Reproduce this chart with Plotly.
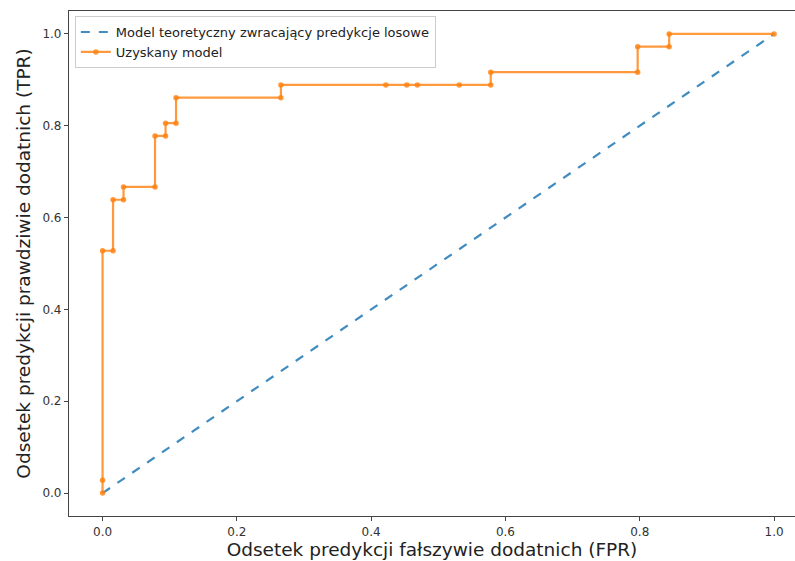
import plotly.graph_objects as go

# ROC curve data
fpr = [0.0, 0.0, 0.0, 0.0156, 0.0156, 0.0312, 0.0312, 0.0781, 0.0781, 0.0938, 0.0938,
       0.1094, 0.1094, 0.2656, 0.2656, 0.4219, 0.4531, 0.4688, 0.5312, 0.5781, 0.5781,
       0.7969, 0.7969, 0.8438, 0.8438, 1.0]
tpr = [0.0, 0.0278, 0.5278, 0.5278, 0.6389, 0.6389, 0.6667, 0.6667, 0.7778, 0.7778, 0.8056,
       0.8056, 0.8611, 0.8611, 0.8889, 0.8889, 0.8889, 0.8889, 0.8889, 0.8889, 0.9167,
       0.9167, 0.9722, 0.9722, 1.0, 1.0]
random_x = [0.0, 1.0]
random_y = [0.0, 1.0]
ticks = [0.0, 0.2, 0.4, 0.6, 0.8, 1.0]

fig = go.Figure()
fig.add_trace(go.Scatter(
    x=random_x, y=random_y, mode="lines",
    name="Model teoretyczny zwracający predykcje losowe",
    line=dict(color="rgba(31,119,180,0.85)", width=2.2, dash="dash"),
))
fig.add_trace(go.Scatter(
    x=fpr, y=tpr, mode="lines+markers",
    name="Uzyskany model",
    line=dict(color="rgba(255,127,14,0.8)", width=2.2),
    marker=dict(color="rgba(255,127,14,0.8)", size=5.5),
))

axis_common = dict(
    showgrid=False, zeroline=False, showline=True, linecolor="#444", linewidth=1.2,
    ticks="outside", ticklen=4, tickcolor="#444", tickvals=ticks, tickformat=".1f",
    tickfont=dict(family="DejaVu Sans", size=12, color="#333"),
)

fig.update_layout(
    width=795, height=561,
    margin=dict(l=69, r=0, t=11, b=45),
    paper_bgcolor="white", plot_bgcolor="white",
    font=dict(family="DejaVu Sans", color="#222"),
    xaxis=dict(range=[-0.05, 1.0312], mirror=True,
               title=dict(text="Odsetek predykcji fałszywie dodatnich (FPR)",
                          font=dict(size=18.5, color="#222"), standoff=5),
               **axis_common),
    yaxis=dict(range=[-0.05, 1.05],
               title=dict(text="Odsetek predykcji prawdziwie dodatnich (TPR)",
                          font=dict(size=18.5, color="#222"), standoff=6),
               **axis_common),
    legend=dict(x=0.008, y=0.99, xanchor="left", yanchor="top",
                bgcolor="rgba(255,255,255,0.8)", bordercolor="#ccc", borderwidth=1,
                font=dict(family="DejaVu Sans", size=13, color="#222"),
                tracegroupgap=0, itemwidth=30),
    showlegend=True,
)

fig.write_html("out.html")
